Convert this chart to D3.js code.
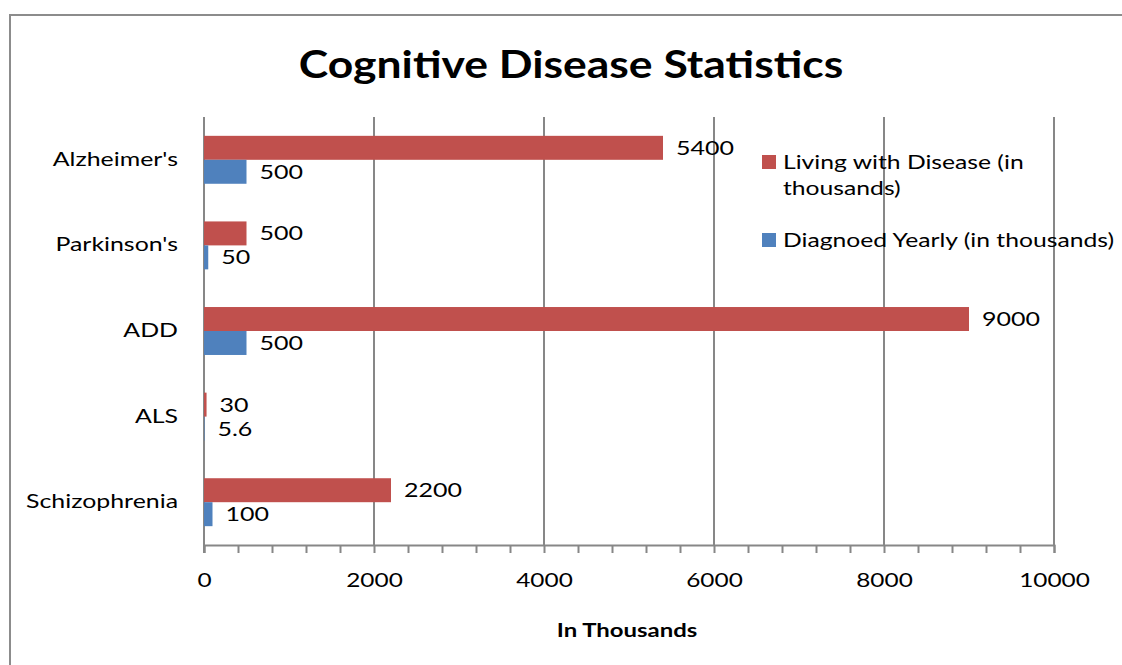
<!DOCTYPE html>
<html>
<head>
<meta charset="utf-8">
<script src="https://cdn.jsdelivr.net/npm/d3@7"></script>
<style>
  body { margin: 0; background: #fff; }
  svg text { font-family: Lato, "Open Sans", sans-serif; fill: #000; }
</style>
</head>
<body>
<svg id="chart" width="1122" height="665"></svg>
<script>
var diseases = ["Alzheimer's", "Parkinson's", "ADD", "ALS", "Schizophrenia"];
var livingValues = [5400, 500, 9000, 30, 2200];
var diagnosedValues = [500, 50, 500, 5.6, 100];
var seriesNames = ["Living with  Disease (in", "Diagnoed Yearly (in thousands)"];
var seriesColors = ["#C0504D", "#4F81BD"];
var xTicks = [0, 2000, 4000, 6000, 8000, 10000];

var margin = { top: 117, left: 204 },
    plotWidth = 1054 - 204,
    plotHeight = 545 - 117;

var svg = d3.select("#chart");

// the source text is wide (stretched Calibri), so widen Lato horizontally
function place(sel, x, y, sx) {
    return sel.attr("transform", "translate(" + x + "," + y + ") scale(" + sx + ",1)");
}

// outer frame (right and bottom edges run off the picture)
svg.append("rect")
    .attr("x", 10).attr("y", 15)
    .attr("width", 1200).attr("height", 700)
    .attr("fill", "none")
    .attr("stroke", "#8c8c8c")
    .attr("stroke-width", 2);

place(svg.append("text"), 571, 78, 1.17)
    .attr("text-anchor", "middle")
    .style("font-size", "38px")
    .style("font-weight", "bold")
    .text("Cognitive Disease Statistics");

var g = svg.append("g")
    .attr("transform", "translate(" + margin.left + "," + margin.top + ")");

var x = d3.scaleLinear().domain([0, 10000]).range([0, plotWidth]);
var y = d3.scaleBand().domain(diseases).range([0, plotHeight]).paddingInner(0.44).paddingOuter(0.22);
var ySub = d3.scaleBand().domain([0, 1]).range([0, y.bandwidth()]);

// gridlines
g.selectAll(".grid")
    .data(xTicks.slice(1))
    .enter().append("line")
    .attr("class", "grid")
    .attr("x1", function (d) { return x(d); })
    .attr("x2", function (d) { return x(d); })
    .attr("y1", 0).attr("y2", plotHeight)
    .attr("stroke", "#878787")
    .attr("stroke-width", 2);

// x axis with minor ticks every 400
var xAxis = d3.axisBottom(x)
    .tickValues(d3.range(0, 10001, 400))
    .tickSize(8)
    .tickFormat(function (d) { return d % 2000 === 0 ? d : ""; });

var xg = g.append("g")
    .attr("transform", "translate(0," + plotHeight + ")")
    .call(xAxis);
xg.select(".domain").attr("stroke", "#878787").attr("stroke-width", 2);
xg.selectAll(".tick line").attr("stroke", "#878787").attr("stroke-width", 2);
xg.selectAll(".tick text")
    .attr("y", 28)
    .attr("transform", "scale(1.22,1)")
    .style("font-size", "20px")
    .style("font-family", "Lato, sans-serif")
    .attr("fill", "#000");

// y axis line
g.append("line")
    .attr("x1", 0).attr("x2", 0)
    .attr("y1", 0).attr("y2", plotHeight + 8)
    .attr("stroke", "#878787")
    .attr("stroke-width", 2);

// category labels
g.selectAll(".cat")
    .data(diseases)
    .enter().append("text")
    .attr("class", "cat")
    .attr("transform", function (d) {
        return "translate(-26," + (y(d) + y.bandwidth() / 2 + 6) + ") scale(1.31,1)";
    })
    .attr("text-anchor", "end")
    .style("font-size", "19px")
    .text(function (d) { return d; });

var seriesValues = [livingValues, diagnosedValues];

seriesValues.forEach(function (vals, s) {
    var rows = diseases.map(function (d, i) { return { name: d, value: vals[i] }; });
    g.selectAll(".bar" + s)
        .data(rows)
        .enter().append("rect")
        .attr("x", 0)
        .attr("y", function (d) { return y(d.name) + ySub(s); })
        .attr("width", function (d) { return x(d.value); })
        .attr("height", ySub.bandwidth())
        .attr("fill", seriesColors[s]);

    g.selectAll(".lbl" + s)
        .data(rows)
        .enter().append("text")
        .attr("transform", function (d) {
            return "translate(" + (x(d.value) + 13) + "," +
                (y(d.name) + ySub(s) + ySub.bandwidth() / 2 + 7) + ") scale(1.25,1)";
        })
        .style("font-size", "20px")
        .text(function (d) { return d.value; });
});

// x axis title
place(svg.append("text"), 627, 637, 1.33)
    .attr("text-anchor", "middle")
    .style("font-size", "18px")
    .style("font-weight", "bold")
    .text("In Thousands");

// legend
var legend = svg.append("g").attr("transform", "translate(762,152)");
legend.append("rect").attr("x", 0).attr("y", 3).attr("width", 14).attr("height", 14).attr("fill", seriesColors[0]);
place(legend.append("text"), 21, 17, 1.3).style("font-size", "19px").text(seriesNames[0]);
place(legend.append("text"), 21, 43, 1.3).style("font-size", "19px").text("thousands)");
legend.append("rect").attr("x", 0).attr("y", 81).attr("width", 14).attr("height", 14).attr("fill", seriesColors[1]);
place(legend.append("text"), 21, 95, 1.3).style("font-size", "19px").text(seriesNames[1]);
</script>
</body>
</html>
